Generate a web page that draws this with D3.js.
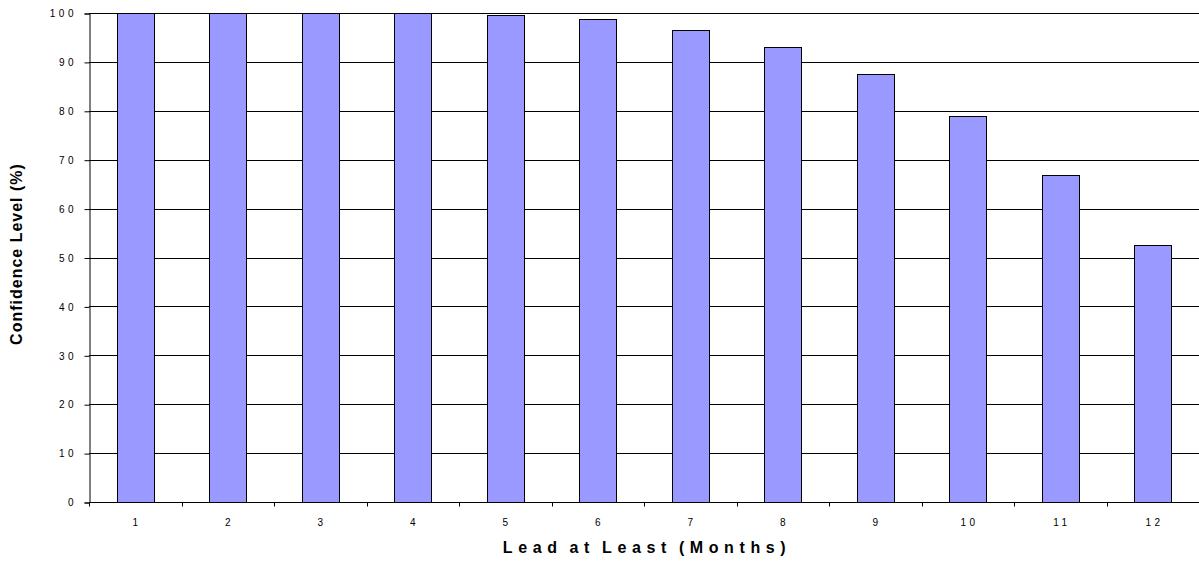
<!DOCTYPE html>
<html>
<head>
<meta charset="utf-8">
<script src="https://cdn.jsdelivr.net/npm/d3@7"></script>
<style>
  body { margin: 0; background: #fff; }
  svg { display: block; font-family: Arial, "Liberation Sans", sans-serif; }
</style>
</head>
<body>
<div id="chart"></div>
<script>
// chart data
const months = ["1", "2", "3", "4", "5", "6", "7", "8", "9", "10", "11", "12"];
const confidence = [100, 100, 100, 100, 99.5, 98.7, 96.5, 93.0, 87.6, 79.0, 66.8, 52.6];
const yTicks = [0, 10, 20, 30, 40, 50, 60, 70, 80, 90, 100];

const width = 1199;
const height = 564;
const margin = {left: 89, right: 0, top: 13, bottom: 62};
const tickSpacing = 3.5;

const svg = d3.select("#chart")
  .append("svg")
  .attr("width", width)
  .attr("height", height);

// scales
const xScale = d3.scaleBand()
  .domain(months)
  .range([margin.left, width - margin.right])
  .paddingInner(0.6)
  .paddingOuter(0.3);

const yScale = d3.scaleLinear()
  .domain([0, 100])
  .range([height - margin.bottom, margin.top]);

// gridlines
svg.append("g")
  .selectAll("line")
  .data(yTicks.filter(d => d > 0))
  .join("line")
    .attr("x1", margin.left)
    .attr("x2", width - margin.right)
    .attr("y1", d => Math.round(yScale(d)) + 0.5)
    .attr("y2", d => Math.round(yScale(d)) + 0.5)
    .attr("stroke", "#000")
    .attr("stroke-width", 1);

// bars
svg.selectAll(".bar")
  .data(confidence)
  .join("rect")
    .attr("class", "bar")
    .attr("x", (d, i) => Math.round(xScale(months[i])) + 0.5)
    .attr("y", d => Math.round(yScale(d)) + 0.5)
    .attr("width", Math.round(xScale.bandwidth()))
    .attr("height", d => Math.round(yScale(0)) - Math.round(yScale(d)))
    .attr("fill", "#9999FF")
    .attr("stroke", "#000")
    .attr("stroke-width", 1);

// y axis
const yAxis = svg.append("g")
  .attr("transform", `translate(${margin.left + 0.5},0.5)`)
  .call(d3.axisLeft(yScale).tickValues(yTicks).tickSize(5).tickPadding(9))
  .attr("font-size", "10px")
  .attr("font-family", "Arial, 'Liberation Sans', sans-serif");
yAxis.select(".domain").attr("stroke", "#000");
yAxis.selectAll(".tick line").attr("stroke", "#000");
yAxis.selectAll(".tick text").attr("fill", "#000").attr("letter-spacing", tickSpacing + "px").attr("dx", "1.5px");

// x axis: ticks sit between the categories
const step = xScale.step();
const xAxis = svg.append("g")
  .attr("transform", `translate(0,${Math.round(yScale(0)) + 0.5})`);
xAxis.append("line")
  .attr("x1", margin.left)
  .attr("x2", width - margin.right)
  .attr("stroke", "#000");
xAxis.selectAll(".xtick")
  .data(d3.range(months.length + 1))
  .join("line")
    .attr("class", "xtick")
    .attr("x1", i => Math.round(margin.left + i * step) + 0.5)
    .attr("x2", i => Math.round(margin.left + i * step) + 0.5)
    .attr("y1", 0)
    .attr("y2", 4)
    .attr("stroke", "#000");
xAxis.selectAll(".xlabel")
  .data(months)
  .join("text")
    .attr("class", "xlabel")
    .attr("x", d => xScale(d) + xScale.bandwidth() / 2)
    .attr("y", 23)
    .attr("text-anchor", "middle")
    .attr("font-size", "10px")
    .attr("letter-spacing", tickSpacing + "px")
    .attr("dx", (tickSpacing / 2) + "px")
    .text(d => d);

// axis titles
svg.append("text")
  .attr("x", (margin.left + width - margin.right) / 2 + 3)
  .attr("y", 553)
  .attr("text-anchor", "middle")
  .attr("font-size", "16px")
  .attr("font-weight", "bold")
  .attr("letter-spacing", "5.6px")
  .attr("word-spacing", "-3px")
  .text("Lead at Least (Months)");

svg.append("text")
  .attr("transform", "translate(22,254) rotate(-90)")
  .attr("text-anchor", "middle")
  .attr("font-size", "16px")
  .attr("font-weight", "bold")
  .attr("letter-spacing", "1px")
  .text("Confidence Level (%)");
</script>
</body>
</html>
